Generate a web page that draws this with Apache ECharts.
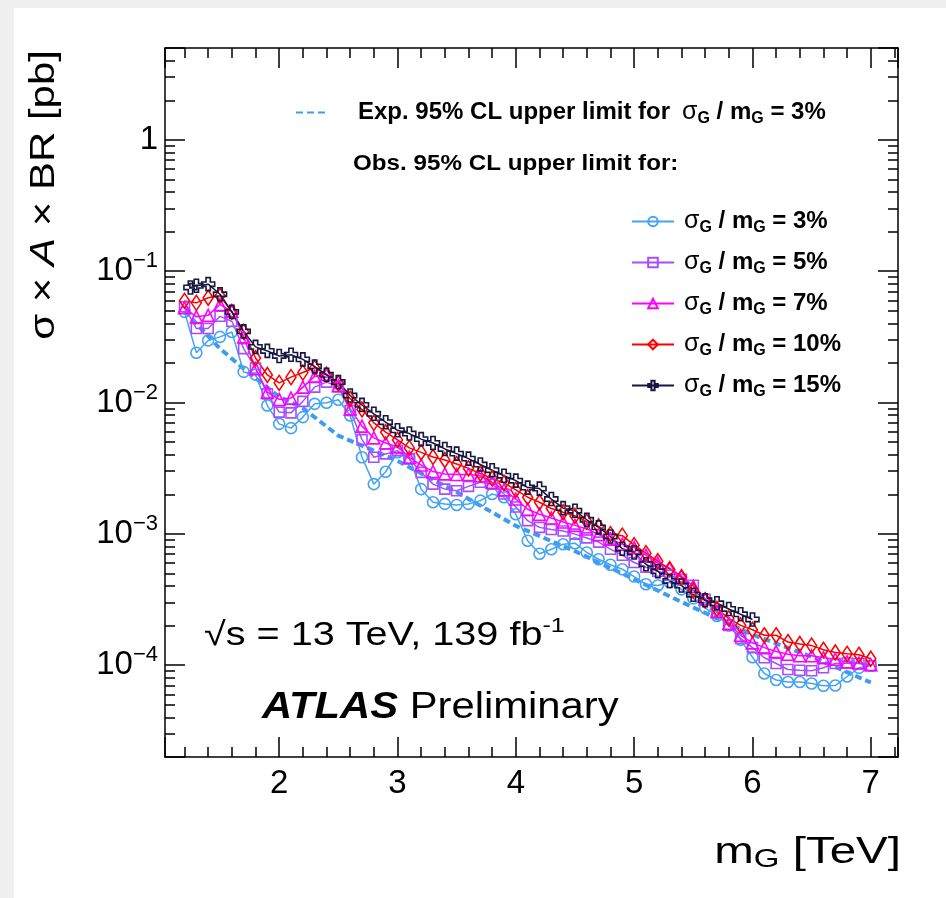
<!DOCTYPE html>
<html>
<head>
<meta charset="utf-8">
<title>Limits vs mG</title>
<script src="https://cdn.jsdelivr.net/npm/echarts@6/dist/echarts.min.js"></script>
<style>
  html, body { margin: 0; padding: 0; background: #fff; }
  #chart { width: 946px; height: 898px; }
</style>
</head>
<body>
<div id="chart"></div>
<script>
// masses [TeV]
const massObs = [1.2, 1.3, 1.4, 1.5, 1.6, 1.7, 1.8, 1.9,
  2.0, 2.1, 2.2, 2.3, 2.4, 2.5, 2.6, 2.7, 2.8, 2.9,
  3.0, 3.1, 3.2, 3.3, 3.4, 3.5, 3.6, 3.7, 3.8, 3.9,
  4.0, 4.1, 4.2, 4.3, 4.4, 4.5, 4.6, 4.7, 4.8, 4.9,
  5.0, 5.1, 5.2, 5.3, 5.4, 5.5, 5.6, 5.7, 5.8, 5.9,
  6.0, 6.1, 6.2, 6.3, 6.4, 6.5, 6.6, 6.7, 6.8, 6.9, 7.0];
const massObs15 = [1.25, 1.3, 1.4, 1.5, 1.6, 1.7, 1.8, 1.9,
  2.0, 2.1, 2.2, 2.3, 2.4, 2.5, 2.6, 2.7, 2.8, 2.9,
  3.0, 3.1, 3.2, 3.3, 3.4, 3.5, 3.6, 3.7, 3.8, 3.9,
  4.0, 4.1, 4.2, 4.3, 4.4, 4.5, 4.6, 4.7, 4.8, 4.9,
  5.0, 5.1, 5.2, 5.3, 5.4, 5.5, 5.6, 5.7, 5.8, 5.9, 6.0];
const massExp = [1.2, 1.3, 1.5, 1.7, 2.0, 2.2, 2.5, 2.8, 3.0, 3.5, 4.0, 4.5, 5.0, 5.5, 6.0, 6.5, 7.0];

// limits [pb]
const limExp3 = [0.0501, 0.0399, 0.0257, 0.0181, 0.01106, 0.00906, 0.0056, 0.0043, 0.00359, 0.00208,
  0.00115, 0.000738, 0.000451, 0.000275, 0.000171, 0.000116, 0.0000738];

const limObs3 = [0.0490, 0.0239, 0.0297, 0.0316, 0.0344, 0.0171, 0.0163, 0.00948,
  0.00688, 0.00638, 0.00774, 0.00977, 0.00995, 0.0105, 0.00796, 0.00383, 0.00239, 0.00297,
  0.00418, 0.00377, 0.00219, 0.00174, 0.00169, 0.00166, 0.00169, 0.00179, 0.00201, 0.00190,
  0.00141, 0.000887, 0.000706, 0.000764, 0.000834, 0.000849, 0.000721, 0.000641, 0.000582, 0.000538,
  0.000473, 0.000413, 0.000404, 0.000428, 0.000378, 0.000323, 0.000273, 0.000237, 0.000201, 0.000156,
  0.000115, 0.0000865, 0.0000771, 0.0000745, 0.0000745, 0.0000725, 0.0000697, 0.0000700, 0.0000820, 0.0000955,
  0.0000989];

const limObs5 = [0.0535, 0.0366, 0.0366, 0.0453, 0.0415, 0.0257, 0.0183, 0.01164,
  0.00845, 0.00834, 0.0102, 0.0131, 0.0143, 0.0132, 0.00869, 0.00522, 0.00383, 0.00406,
  0.00430, 0.00372, 0.00294, 0.00239, 0.00219, 0.00213, 0.00230, 0.00247, 0.00239, 0.00201,
  0.00160, 0.00126, 0.00112, 0.00108, 0.00105, 0.000995, 0.000931, 0.000865, 0.000764, 0.000688,
  0.000605, 0.000557, 0.000519, 0.000484, 0.000451, 0.000406, 0.000318, 0.000252, 0.000201, 0.000160,
  0.000136, 0.000114, 0.000103, 0.0000927, 0.0000916, 0.0000908, 0.0000955, 0.000103, 0.000104, 0.000103,
  0.0000989];

const limObs7 = [0.0526, 0.0449, 0.0461, 0.0557, 0.0495, 0.0316, 0.0181, 0.0120,
  0.01055, 0.0108, 0.0131, 0.0158, 0.0164, 0.0134, 0.00895, 0.00661, 0.00538, 0.00492,
  0.00459, 0.00382, 0.00334, 0.00298, 0.00286, 0.00283, 0.00283, 0.00277, 0.00247, 0.00216,
  0.00184, 0.00154, 0.00141, 0.00132, 0.00123, 0.00116, 0.00109, 0.000986, 0.000912, 0.000834,
  0.000785, 0.000688, 0.000597, 0.000547, 0.000478, 0.000399, 0.000319, 0.000257, 0.000208, 0.000169,
  0.000148, 0.000136, 0.000127, 0.000121, 0.000118, 0.000118, 0.000114, 0.000111, 0.000106, 0.000104,
  0.000101];

const limObs10 = [0.0594, 0.0574, 0.0627, 0.0649, 0.0490, 0.0345, 0.0218, 0.0162,
  0.0141, 0.0156, 0.0169, 0.0184, 0.0163, 0.0140, 0.01067, 0.00885, 0.00700, 0.00594,
  0.00519, 0.00451, 0.00417, 0.00385, 0.00365, 0.00340, 0.00315, 0.00288, 0.00264, 0.00244,
  0.00216, 0.00190, 0.00174, 0.00156, 0.00146, 0.00137, 0.00124, 0.00114, 0.000995, 0.000969,
  0.000820, 0.000713, 0.000619, 0.000538, 0.000467, 0.000372, 0.000312, 0.000268, 0.000227, 0.000201,
  0.000186, 0.000169, 0.000169, 0.000150, 0.000145, 0.000141, 0.000131, 0.000125, 0.000122, 0.000120,
  0.000112];

const limObs15 = [0.0751, 0.0774, 0.0796, 0.0667, 0.0490, 0.0348, 0.0265, 0.0247,
  0.0226, 0.0231, 0.0213, 0.0188, 0.01626, 0.01432, 0.0113, 0.00959, 0.0082, 0.00708,
  0.00614, 0.00580, 0.00526, 0.00492, 0.00443, 0.00408, 0.00374, 0.00337, 0.00305, 0.00277,
  0.00254, 0.00225, 0.00221, 0.00184, 0.00157, 0.00150, 0.00128, 0.00112, 0.000955, 0.000771,
  0.000721, 0.000587, 0.000519, 0.000438, 0.000404, 0.000344, 0.000312, 0.000296, 0.000268, 0.000244,
  0.000223];

const obsNames = ['obs3', 'obs5', 'obs7', 'obs10', 'obs15'];
const widthLabels = ['3%', '5%', '7%', '10%', '15%'];

const FONT = '"Liberation Sans", Arial, Helvetica, sans-serif';

const pairs = (xs, ys) => xs.map((x, i) => [x, ys[i]]);

const sigmaText = (pct) => '{s|σ}{g|G}{b| / m}{g|G}{b| = ' + pct + '}';

const legendRich = {
  b: { fontSize: 24, fontWeight: 'bold', fontFamily: FONT, color: '#000', lineHeight: 28 },
  s: { fontSize: 25, fontFamily: FONT, color: '#000', lineHeight: 28 },
  g: { fontSize: 16, fontWeight: 'bold', fontFamily: FONT, color: '#000', verticalAlign: 'bottom', lineHeight: 16 },
  sp: { width: 5 },
  sp2: { width: 24 },
  sp3: { width: 12 }
};

const tickStyle = { color: '#000', width: 1.5 };

function obsSeries(name, xs, ys, color, symbol, size) {
  return {
    name: name,
    type: 'line',
    data: pairs(xs, ys),
    symbol: symbol,
    symbolSize: size,
    showAllSymbol: true,
    lineStyle: { color: color, width: 1.5 },
    itemStyle: { color: 'rgba(255,255,255,0)', borderColor: color, borderWidth: 1.6 },
    emphasis: { disabled: true }
  };
}

const crossPath = 'path://M4,0H8V4H12V8H8V12H4V8H0V4H4Z';

const yLabel = (v) => {
  const e = Math.round(Math.log10(v));
  return e === 0 ? '{n|1}' : '{n|10}{p|−' + (-e) + '}';
};

const xAxisBase = {
  type: 'value', min: 1.035, max: 7.23, splitNumber: 6,
  axisLine: { show: true, onZero: false, lineStyle: { color: '#000', width: 1.5 } },
  axisTick: { inside: true, length: 20, lineStyle: tickStyle },
  minorTick: { show: true, splitNumber: 5, length: 10, lineStyle: tickStyle },
  splitLine: { show: false },
  minorSplitLine: { show: false }
};

const yAxisBase = {
  type: 'log', logBase: 10, min: 2e-5, max: 5,
  axisLine: { show: true, onZero: false, lineStyle: { color: '#000', width: 1.5 } },
  axisTick: { inside: true, length: 20, lineStyle: tickStyle },
  minorTick: { show: true, splitNumber: 9, length: 10, lineStyle: tickStyle },
  splitLine: { show: false },
  minorSplitLine: { show: false }
};

const option = {
  animation: false,
  backgroundColor: '#fff',
  grid: { left: 165, right: 48, top: 48, bottom: 141, containLabel: false },
  xAxis: [
    Object.assign({}, xAxisBase, {
      position: 'bottom',
      axisLabel: {
        fontSize: 33, fontFamily: FONT, color: '#000', margin: 10,
        showMinLabel: false, showMaxLabel: false
      }
    }),
    Object.assign({}, xAxisBase, { position: 'top', axisLabel: { show: false } })
  ],
  yAxis: [
    Object.assign({}, yAxisBase, {
      position: 'left',
      axisLabel: {
        margin: 7, showMinLabel: false, showMaxLabel: false,
        formatter: yLabel,
        rich: {
          n: { fontSize: 33, fontFamily: FONT, color: '#000', lineHeight: 42 },
          p: { fontSize: 22, fontFamily: FONT, color: '#000', verticalAlign: 'top', lineHeight: 22 }
        }
      }
    }),
    Object.assign({}, yAxisBase, { position: 'right', axisLabel: { show: false } })
  ],
  legend: [
    {
      data: [{ name: 'exp', itemStyle: { opacity: 0 } }],
      left: 295, top: 100, padding: 0,
      itemWidth: 33, itemHeight: 12,
      selectedMode: false,
      formatter: () => '{sp2| }{b|Exp. 95% CL upper limit for}{sp3| }' + sigmaText('3%'),
      textStyle: { rich: legendRich }
    },
    {
      data: obsNames,
      orient: 'vertical',
      left: 631, top: 209, padding: 0,
      itemWidth: 42, itemHeight: 12, itemGap: 14.5,
      selectedMode: false,
      formatter: (name) => '{sp| }' + sigmaText(widthLabels[obsNames.indexOf(name)]),
      textStyle: { rich: legendRich }
    }
  ],
  graphic: [
    { type: 'rect', z: -20, silent: true, shape: { x: 0, y: 0, width: 946, height: 898 }, style: { fill: '#f0f0f0' } },
    { type: 'rect', z: -19, silent: true, shape: { x: 14, y: 8, width: 932, height: 890 }, style: { fill: '#fff' } },
    {
      type: 'text', x: 353, y: 164, scaleX: 1.1,
      style: {
        text: 'Obs. 95% CL upper limit for:', fill: '#000',
        font: 'bold 22px ' + FONT, align: 'left', verticalAlign: 'middle'
      }
    },
    {
      type: 'text', x: 44, y: 50, rotation: Math.PI / 2, scaleX: 1.2,
      style: {
        text: '{n|σ × }{i|A}{n| × BR [pb]}', align: 'right', verticalAlign: 'middle',
        rich: {
          n: { fontSize: 35, fontFamily: FONT, fill: '#000' },
          i: { fontSize: 35, fontFamily: FONT, fontStyle: 'italic', fill: '#000' }
        }
      }
    },
    {
      type: 'text', x: 901, y: 853, scaleX: 1.32,
      style: {
        text: '{n|m}{g|G}{n| [TeV]}', align: 'right', verticalAlign: 'middle',
        rich: {
          n: { fontSize: 36, fontFamily: FONT, fill: '#000', lineHeight: 40 },
          g: { fontSize: 25, fontFamily: FONT, fill: '#000', verticalAlign: 'bottom', lineHeight: 25 }
        }
      }
    },
    {
      type: 'text', x: 204, y: 636, scaleX: 1.2,
      style: {
        text: '{n|√s = 13 TeV, 139 fb}{p|-1}', align: 'left', verticalAlign: 'middle',
        rich: {
          n: { fontSize: 33, fontFamily: FONT, fill: '#000', lineHeight: 40 },
          p: { fontSize: 21, fontFamily: FONT, fill: '#000', verticalAlign: 'top', lineHeight: 21 }
        }
      }
    },
    {
      type: 'text', x: 262, y: 708, scaleX: 1.16,
      style: {
        text: '{a|ATLAS}{n| Preliminary}', align: 'left', verticalAlign: 'middle',
        rich: {
          a: { fontSize: 36, fontFamily: FONT, fontWeight: 'bold', fontStyle: 'italic', fill: '#000' },
          n: { fontSize: 36, fontFamily: FONT, fill: '#000' }
        }
      }
    }
  ],
  series: [
    {
      name: 'exp',
      type: 'line',
      data: pairs(massExp, limExp3),
      symbol: 'none',
      lineStyle: { color: '#3d9cf0', width: 4, type: [7, 4] },
      itemStyle: { color: '#3d9cf0' },
      emphasis: { disabled: true }
    },
    obsSeries('obs3', massObs, limObs3, '#45a3f2', 'circle', 11),
    obsSeries('obs5', massObs, limObs5, '#a64dff', 'rect', 10),
    obsSeries('obs7', massObs, limObs7, '#ff00ff', 'triangle', 12),
    obsSeries('obs10', massObs, limObs10, '#ff0000', 'diamond', [10, 15]),
    obsSeries('obs15', massObs15, limObs15, '#161640', crossPath, 13)
  ]
};

const chart = echarts.init(document.getElementById('chart'));
chart.setOption(option);
window.addEventListener('resize', () => chart.resize());
</script>
</body>
</html>
